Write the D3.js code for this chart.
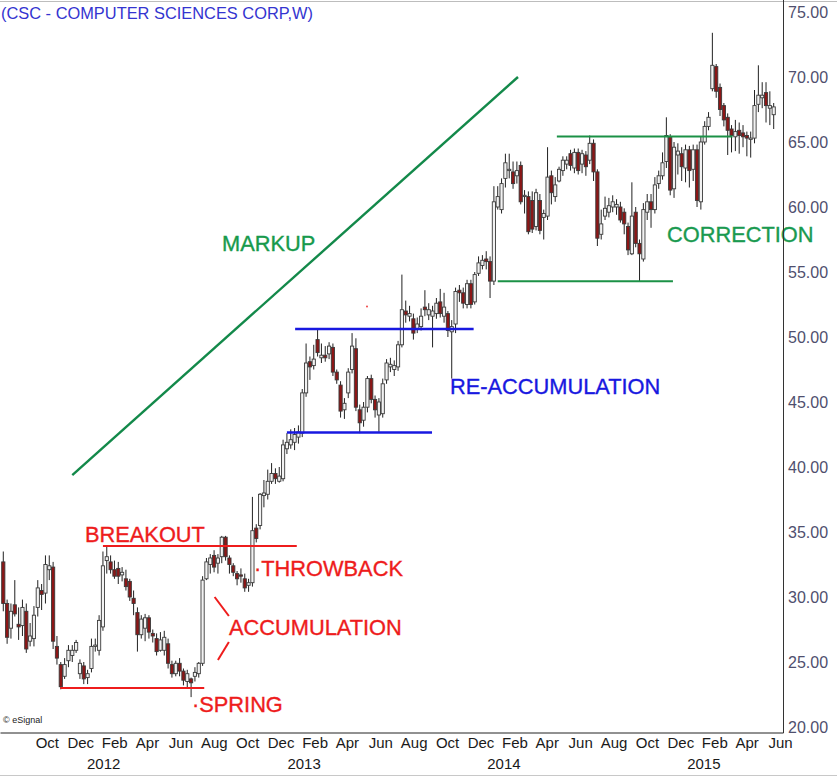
<!DOCTYPE html>
<html><head><meta charset="utf-8">
<script src="https://cdn.jsdelivr.net/npm/d3@7"></script>
<style>body{margin:0;background:#fff} svg{display:block} text{font-family:"Liberation Sans",Arial,sans-serif}</style>
</head><body><svg id="c" width="837" height="777"></svg>
<script>
// ---- data (weekly candles, first week ending 2011-07-08) ----
const firstWeek = "2011-07-08";
const opens = [32.7,29.5,27.6,29.4,27.9,27.8,28.9,26.6,26.8,29.2,30.5,30.3,32.1,32.3,26.2,24.8,23.9,25.1,25.5,25.9,
24.1,24.7,23.8,24.5,26.2,25.9,27.7,32.8,32.7,32.1,32.2,31.7,31.4,31.2,29.9,28.8,27.1,27.6,28.4,27.2,
26.8,25.9,25.9,26.4,24.8,24.1,24.9,24.3,23.5,23.7,23.9,24.1,24.9,31.4,32.5,33.2,32.6,33.1,34.6,33.0,
32.4,31.8,31.7,31.4,30.9,31.1,35.3,35.5,37.8,37.9,38.9,39.5,38.9,39.1,41.4,41.7,41.9,42.3,42.6,45.7,
48.1,47.8,49.8,48.4,48.6,48.7,49.2,47.3,46.3,44.4,45.7,47.5,49.1,44.4,43.6,44.6,46.8,45.2,44.0,44.1,
46.7,47.7,47.5,47.7,49.4,52.0,51.6,51.4,50.6,50.8,52.3,51.7,51.6,51.8,52.7,51.6,51.8,50.4,51.0,53.6,
53.4,52.5,54.1,52.7,54.9,55.5,56.0,55.8,54.3,60.0,59.8,62.2,62.8,62.7,62.4,63.2,60.8,60.8,60.5,58.5,
60.5,59.2,59.3,62.4,60.8,62.0,62.8,63.3,64.1,63.0,64.2,63.3,64.0,63.6,64.9,62.7,57.9,59.3,59.6,60.0,
60.0,60.0,59.6,58.5,56.4,59.6,57.2,56.0,59.6,60.4,59.8,61.8,62.4,63.5,65.4,61.4,64.0,64.1,63.0,64.4,
62.9,64.4,60.4,65.0,66.2,69.1,70.8,69.2,67.8,66.9,66.0,65.4,65.9,65.7,65.5,65.2,65.3,67.9,68.4,68.8,
67.6,67.1];
const highs = [33.5,29.8,29.5,31.3,29.2,29.8,29.5,28.0,29.3,31.3,31.0,33.2,33.2,32.7,27.0,25.0,25.3,26.3,26.3,26.7,
25.2,25.0,24.4,26.8,26.8,28.6,33.5,33.9,33.2,32.8,32.7,32.3,32.1,31.4,30.5,29.2,28.6,28.7,28.6,27.5,
27.2,27.3,27.4,26.8,25.1,25.1,25.3,24.5,24.4,23.8,24.6,25.0,31.6,33.0,33.3,33.6,33.3,34.7,34.7,33.2,
32.6,32.0,32.2,31.8,31.4,37.7,35.6,38.0,39.0,39.8,40.3,39.9,40.0,42.1,42.6,42.9,43.0,43.2,46.0,49.5,
48.5,49.4,50.6,49.5,49.3,49.6,49.5,47.5,46.6,45.3,47.6,50.3,49.9,44.8,45.0,47.0,47.1,45.5,45.3,46.8,
48.3,48.4,48.2,49.7,54.8,52.8,52.4,51.8,51.5,52.2,53.6,52.6,52.4,53.0,53.7,53.4,52.0,51.3,53.8,54.0,
53.8,54.4,54.4,55.0,56.2,56.3,56.6,56.2,61.6,61.6,62.2,64.1,64.1,63.5,63.5,63.5,61.3,61.2,61.2,61.4,
61.0,59.8,64.6,62.8,62.3,63.1,63.9,63.9,64.4,64.5,64.5,64.4,64.3,65.5,65.2,62.9,59.8,60.8,60.7,60.9,
60.6,60.4,59.9,58.8,61.9,60.0,57.5,60.3,61.0,61.0,62.3,62.8,64.2,66.9,65.6,65.0,64.9,64.6,64.8,64.7,
64.8,64.8,65.4,66.6,67.3,73.4,71.0,69.5,68.0,67.2,66.3,66.7,66.5,66.3,65.8,65.8,69.0,70.9,69.6,69.6,
68.9,68.0];
const lows = [28.9,26.4,26.8,28.5,26.7,27.0,25.7,26.2,26.2,28.5,29.0,29.5,31.3,26.0,24.8,22.9,23.7,24.6,25.0,25.7,
23.7,23.3,23.3,24.2,25.8,25.5,27.4,31.8,31.8,31.4,31.0,31.2,30.5,29.7,28.6,25.8,26.8,26.6,26.8,26.5,
25.5,25.8,25.5,24.5,23.8,23.9,23.9,23.2,23.0,22.3,23.5,23.8,24.7,31.3,31.8,31.9,31.8,32.6,32.8,31.8,
31.6,30.9,31.1,30.4,30.4,30.8,34.2,35.2,36.9,37.5,38.7,38.7,38.8,38.9,41.0,41.4,41.3,41.8,42.3,45.4,
46.7,47.5,48.5,48.0,48.1,48.3,47.0,46.4,43.8,43.7,45.3,47.2,44.3,42.6,43.1,44.2,44.9,43.8,42.7,43.8,
46.4,47.3,47.0,47.4,49.2,51.1,51.2,49.8,50.3,50.5,51.6,51.3,49.2,51.4,51.5,51.1,50.0,46.8,50.3,52.7,
52.2,52.2,52.2,52.5,54.7,55.2,55.2,53.0,54.0,59.8,59.5,61.5,62.2,61.4,61.8,60.2,59.5,57.9,58.0,58.2,
57.9,57.5,59.0,60.2,60.4,61.9,62.4,62.9,62.8,62.6,62.5,62.6,62.4,63.3,62.0,57.0,57.5,59.0,59.2,59.6,
59.4,58.8,57.9,56.3,56.3,56.9,54.3,55.8,59.0,58.4,59.5,61.4,62.1,63.0,60.9,60.7,62.5,62.0,61.9,61.5,
62.0,60.0,59.8,64.8,65.9,68.9,68.4,67.0,66.2,64.0,64.2,64.3,64.1,64.6,63.9,63.8,64.9,67.3,67.6,66.5,
66.3,66.0];
const closes = [29.5,26.9,28.9,28.7,27.7,29.2,26.0,27.0,28.6,30.7,30.2,32.5,32.4,26.6,25.3,23.1,24.8,25.9,25.9,26.5,
24.9,23.7,24.1,26.2,26.3,28.2,32.4,33.1,32.1,31.6,31.6,31.9,30.8,30.0,29.5,27.1,28.3,28.4,27.3,27.0,
25.8,26.7,26.9,24.9,24.1,24.9,24.3,23.6,24.1,23.4,24.2,24.9,31.3,32.7,33.0,32.3,33.0,34.6,33.1,32.5,
31.9,31.4,31.6,30.7,31.1,35.1,34.5,37.9,38.0,38.9,39.5,39.1,39.3,41.7,41.9,42.1,42.5,42.7,45.7,48.0,
47.7,48.3,48.8,48.6,48.4,49.3,47.3,46.7,44.3,44.9,47.3,49.3,44.6,43.4,44.6,46.8,45.2,44.4,45.0,46.4,
48.0,47.9,47.8,49.4,52.1,51.7,51.8,50.3,51.0,51.6,52.1,52.1,52.0,52.6,51.8,52.3,50.5,50.8,53.5,53.4,
52.6,54.1,52.5,54.8,55.7,55.9,55.8,54.3,60.4,60.8,61.8,63.4,62.9,61.8,62.8,60.4,60.9,58.1,58.3,61.1,
58.2,59.5,62.3,61.1,61.7,62.9,63.6,63.6,63.2,64.2,62.8,64.1,63.1,64.9,62.7,57.6,58.7,59.9,60.1,60.4,
60.2,59.0,58.7,56.7,59.3,57.2,56.4,59.8,60.4,59.8,61.7,62.4,63.4,65.5,61.3,64.6,64.3,63.1,64.4,62.8,
64.4,60.5,65.0,66.2,66.9,70.9,68.9,67.5,66.7,65.9,65.5,65.8,65.5,65.4,65.3,65.3,67.8,68.6,68.6,67.8,
67.8,67.7];
const yTicks = [75,70,65,60,55,50,45,40,35,30,25,20];
const monthTicks = ["2011-10-01","2011-12-01","2012-02-01","2012-04-01","2012-06-01","2012-08-01","2012-10-01","2012-12-01",
"2013-02-01","2013-04-01","2013-06-01","2013-08-01","2013-10-01","2013-12-01","2014-02-01","2014-04-01","2014-06-01",
"2014-08-01","2014-10-01","2014-12-01","2015-02-01","2015-04-01","2015-06-01"];
const yearTicks = ["2012-01-01","2013-01-01","2014-01-01","2015-01-01"];
// annotation lines: [startDate, startPrice, endDate, endPrice, colour]
const levelLines = [
  ["2012-01-06",33.92,"2012-12-25",33.92,"red"],
  ["2011-10-20",23.0,"2012-07-09",23.0,"red"],
  ["2012-12-22",50.62,"2013-11-13",50.62,"blue"],
  ["2012-12-07",42.65,"2013-08-29",42.65,"blue"],
  ["2014-04-14",65.42,"2015-03-01",65.42,"green"],
  ["2013-12-27",54.28,"2014-11-12",54.28,"green"],
  ["2011-11-11",39.38,"2014-02-02",70.0,"greenDiag"],
  ["2012-07-28",30.0,"2012-08-23",28.54,"redThin"],
  ["2012-08-23",26.54,"2012-08-03",25.15,"redThin"]
];

const parse = d3.timeParse("%Y-%m-%d");
const C = {red:"#ee1c1c", blue:"#1818e0", green:"#1b9146", greenDiag:"#13894a", redThin:"#ee1c1c"};
const W = {red:2, blue:2.6, green:2, greenDiag:2.4, redThin:2};

const svg = d3.select("#c");
const x = d3.scaleTime().domain([new Date(2011,6,2), new Date(2015,5,1)]).range([0,783]);
const y = d3.scaleLinear().domain([20,75]).range([727,12]);

const start = parse(firstWeek);
const data = opens.map((o,i)=>({date:d3.timeDay.offset(start,7*i),o,h:highs[i],l:lows[i],c:closes[i]}));

// frame
svg.append("line").attr("x1",0).attr("x2",837).attr("y1",1.5).attr("y2",1.5).attr("stroke","#bdbdbd");
svg.append("line").attr("x1",0).attr("x2",837).attr("y1",775.5).attr("y2",775.5).attr("stroke","#c8c8c8");

// title
svg.append("text").attr("x",1).attr("y",19).attr("font-size",16.4).attr("fill","#3434d0")
  .text("(CSC - COMPUTER SCIENCES CORP,W)");

// candles
const plot = svg.append("g");
const cg = plot.selectAll("g.k").data(data).join("g").attr("class","k");
cg.append("line")
  .attr("x1",d=>x(d.date)).attr("x2",d=>x(d.date))
  .attr("y1",d=>y(d.h)).attr("y2",d=>y(d.l))
  .attr("stroke","#222").attr("stroke-width",1);
cg.append("rect")
  .attr("x",d=>x(d.date)-1.6).attr("width",3.2)
  .attr("y",d=>y(Math.max(d.o,d.c)))
  .attr("height",d=>Math.max(0.8,Math.abs(y(d.o)-y(d.c))))
  .attr("fill",d=>d.c>=d.o?"#f2f2f2":"#8c1616")
  .attr("stroke","#3a3a3a").attr("stroke-width",0.9);

// annotation lines
svg.append("g").selectAll("line").data(levelLines).join("line")
  .attr("x1",d=>x(parse(d[0]))).attr("y1",d=>y(d[1]))
  .attr("x2",d=>x(parse(d[2]))).attr("y2",d=>y(d[3]))
  .attr("stroke",d=>C[d[4]]).attr("stroke-width",d=>W[d[4]]);

// annotation texts
const ann = [
  ["BREAKOUT",85,542,C.red],
  ["·THROWBACK",254,576,C.red],
  ["ACCUMULATION",229,635,C.red],
  ["·SPRING",192,712,C.red],
  ["MARKUP",222,251,"#179a4c"],
  ["RE-ACCUMULATION",450,394,C.blue],
  ["CORRECTION",667,242,"#1a9a50"]
];
svg.append("g").selectAll("text").data(ann).join("text")
  .attr("x",d=>d[1]).attr("y",d=>d[2]).attr("fill",d=>d[3])
  .attr("stroke",d=>d[3]).attr("stroke-width",0.35)
  .attr("font-size",21.8).text(d=>d[0]);
svg.append("circle").attr("cx",367).attr("cy",306.5).attr("r",0.9).attr("fill","#e33");

// eSignal mark
svg.append("text").attr("x",3).attr("y",723).attr("font-size",9).attr("fill","#222").text("© eSignal");

// right axis
svg.append("line").attr("x1",783.5).attr("x2",783.5).attr("y1",0).attr("y2",733).attr("stroke","#333");
const ya = svg.append("g").attr("transform","translate(783,0)")
  .call(d3.axisRight(y).tickValues(yTicks).tickFormat(d3.format(".2f")).tickSize(0).tickPadding(5));
ya.select(".domain").remove();
ya.selectAll("text").attr("font-size",16).attr("fill","#4f4f6e").attr("font-family","Liberation Sans, Arial, sans-serif");

// bottom axis
const xa = svg.append("g").attr("transform","translate(0,732.5)")
  .call(d3.axisBottom(x).tickValues(monthTicks.map(parse)).tickFormat(d3.timeFormat("%b")).tickSize(0).tickSizeOuter(0).tickPadding(5));
xa.select(".domain").attr("stroke","#222");
xa.selectAll("text").attr("font-size",15).attr("fill","#1a1a1a").attr("dx",-3).attr("font-family","Liberation Sans, Arial, sans-serif");
const ya2 = svg.append("g").attr("transform","translate(0,753)")
  .call(d3.axisBottom(x).tickValues(yearTicks.map(parse)).tickFormat(d3.timeFormat("%Y")).tickSize(0).tickPadding(5));
ya2.select(".domain").remove();
ya2.selectAll("text").attr("font-size",15).attr("fill","#1a1a1a").attr("dx",3).attr("font-family","Liberation Sans, Arial, sans-serif");
</script></body></html>
